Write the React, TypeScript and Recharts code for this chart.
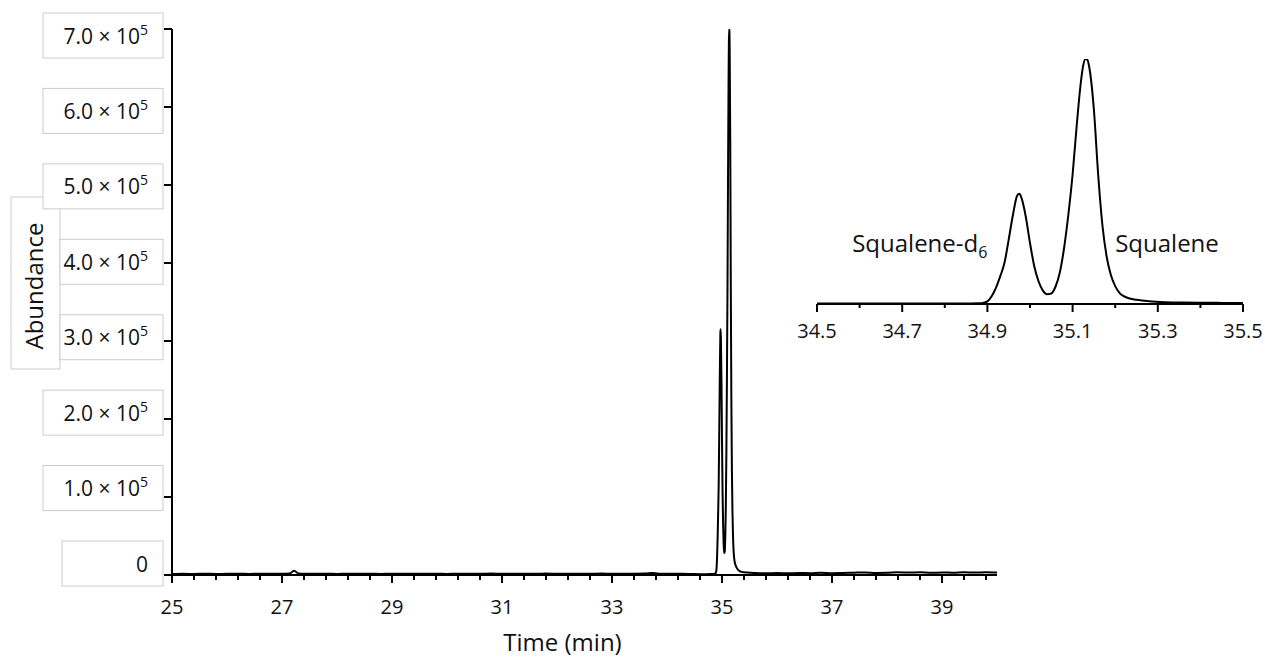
import React from 'react';
import { LineChart, Line, XAxis, YAxis, ReferenceDot } from 'recharts';

// ---- Data ----
const earlyTime = [25.0, 25.2, 25.4, 25.6, 25.8, 26.0, 26.2, 26.4, 26.6, 26.8, 27.0, 27.14, 27.22, 27.3, 27.4, 27.6, 27.8, 28.0, 28.2, 28.4, 28.6, 28.8, 29.0, 29.2, 29.4, 29.6, 29.8, 30.0, 30.2, 30.4, 30.6, 30.8, 31.0, 31.2, 31.4, 31.6, 31.8, 32.0, 32.2, 32.4, 32.6, 32.8, 33.0, 33.2, 33.4, 33.6, 33.73, 33.85, 34.0, 34.2, 34.4, 34.5, 34.6, 34.7, 34.8];
const earlyAbundance = [1200, 1500, 1300, 1600, 1400, 1500, 1700, 1400, 1600, 1500, 1700, 1900, 5500, 1900, 1600, 1500, 1700, 1400, 1600, 1500, 1700, 1400, 1600, 1500, 1700, 1500, 1600, 1400, 1700, 1500, 1600, 1800, 1500, 1700, 1600, 1500, 1800, 1600, 1500, 1700, 1600, 1800, 1500, 1700, 1600, 1800, 2600, 1700, 1600, 1500, 1400, 1200, 1100, 1100, 1200];

const peakTime = [34.86, 34.88, 34.89, 34.9, 34.91, 34.92, 34.93, 34.94, 34.95, 34.96, 34.97, 34.975, 34.98, 34.99, 35.0, 35.01, 35.02, 35.03, 35.04, 35.05, 35.06, 35.07, 35.08, 35.09, 35.1, 35.11, 35.12, 35.125, 35.13, 35.135, 35.14, 35.15, 35.16, 35.17, 35.18, 35.19, 35.2, 35.21, 35.22, 35.23, 35.25, 35.28, 35.32, 35.36, 35.4, 35.45, 35.5];
const peakAbundance = [1500, 2000, 3200, 7600, 22000, 46000, 79000, 117000, 184000, 255000, 310000, 315000, 303000, 250000, 174000, 108000, 65000, 39000, 28000, 30000, 50000, 90000, 160000, 255000, 370000, 515000, 640000, 682000, 700000, 697000, 670000, 555000, 370000, 225000, 135000, 82000, 51000, 32000, 22500, 17000, 12000, 7600, 5000, 4000, 3500, 3200, 3000];

const lateTime = [35.6, 35.8, 36.0, 36.2, 36.4, 36.6, 36.8, 37.0, 37.2, 37.4, 37.6, 37.8, 38.0, 38.2, 38.4, 38.6, 38.8, 39.0, 39.2, 39.4, 39.6, 39.8, 40.0];
const lateAbundance = [2600, 2300, 2500, 2100, 2700, 2400, 2900, 2300, 2600, 3000, 3300, 2700, 2900, 3500, 3100, 3400, 2800, 3200, 3000, 3600, 3100, 3400, 3100];

const mainXLabels = [25, 27, 29, 31, 33, 35, 37, 39];
const mainYTicks = [0, 100000, 200000, 300000, 400000, 500000, 600000, 700000];
const insetXLabels = [34.5, 34.7, 34.9, 35.1, 35.3, 35.5];

const annotations = [
  { name: 'Squalene-d', sub: '6', t: 34.9, a: 148000, anchor: 'end' },
  { name: 'Squalene', sub: '', t: 35.2, a: 148000, anchor: 'start' },
];

const allTime = [...earlyTime, ...peakTime, ...lateTime];
const allAbundance = [...earlyAbundance, ...peakAbundance, ...lateAbundance];
const mainData = allTime.map((t, i) => ({ t, a: allAbundance[i] }));
const insetData = mainData.filter((d) => d.t >= 34.5 && d.t <= 35.5);

const mainXTicks = Array.from({ length: 38 }, (_, i) => Math.round((25 + 0.4 * i) * 10) / 10);
const insetXTicks = Array.from({ length: 11 }, (_, i) => Math.round((34.5 + 0.1 * i) * 10) / 10);

const FONT = '"Open Sans", "Noto Sans", sans-serif';
const TXT = '#111';
const BOX = '#cccccc';

const MainXTick = (props: any) => {
  const { x, y, payload } = props;
  const v = Math.round(payload.value * 10) / 10;
  const major = mainXLabels.includes(v);
  return (
    <g>
      <line x1={x} x2={x} y1={y} y2={y + (major ? 8 : 5)} stroke="#000" strokeWidth={2} />
      {major && (
        <text x={x} y={y + 39} textAnchor="middle" fontSize={20} fontFamily={FONT} fill={TXT}>
          {v}
        </text>
      )}
    </g>
  );
};

const InsetXTick = (props: any) => {
  const { x, y, payload } = props;
  const v = Math.round(payload.value * 10) / 10;
  const major = insetXLabels.includes(v);
  return (
    <g>
      <line x1={x} x2={x} y1={y} y2={y + (major ? 8 : 4)} stroke="#000" strokeWidth={2} />
      {major && (
        <text x={x} y={y + 34} textAnchor="middle" fontSize={20} fontFamily={FONT} fill={TXT}>
          {v.toFixed(1)}
        </text>
      )}
    </g>
  );
};

const YTick = (props: any) => {
  const { x, y, payload } = props;
  const v = payload.value as number;
  const b = y - 11.5 + (18 * v) / 700000; // box centre
  const left = v === 0 ? x - 110 : v === 300000 || v === 400000 ? x - 112 : x - 129;
  const right = x - 9;
  return (
    <g>
      <rect x={left} y={b - 22.5} width={right - left} height={45} fill="#fff" stroke={BOX} strokeWidth={1} />
      <line x1={x - 8} x2={x} y1={y} y2={y} stroke="#000" strokeWidth={2} />
      <text x={x - 24} y={b + 8} textAnchor="end" fontSize={21} fontFamily={FONT} fill={TXT}>
        {v === 0 ? (
          '0'
        ) : (
          <>
            <tspan>{`${(v / 100000).toFixed(1)} \u00d7 10`}</tspan>
            <tspan dy={-9} fontSize={14}>5</tspan>
          </>
        )}
      </text>
    </g>
  );
};

const YTitle = (props: any) => {
  const vb = props.viewBox || {};
  const axisX = vb.x + vb.width;
  const top = vb.y;
  const cx = axisX - 129;
  const cy = top + 257;
  const bx0 = axisX - 161;
  const bxTop = top + 168;
  const bxBot = top + 340;
  return (
    <g>
      <path
        d={`M${axisX - 129},${bxTop} H${bx0} V${bxBot} H${axisX - 112} V${top + 179}`}
        fill="none"
        stroke={BOX}
        strokeWidth={1}
      />
      <text
        x={cx}
        y={cy}
        transform={`rotate(-90, ${cx}, ${cy})`}
        textAnchor="middle"
        fontSize={24}
        fontFamily={FONT}
        fill={TXT}
      >
        Abundance
      </text>
    </g>
  );
};

const XTitle = (props: any) => {
  const vb = props.viewBox || {};
  return (
    <text x={vb.x + vb.width / 2 - 22} y={vb.y + 76} textAnchor="middle" fontSize={24} fontFamily={FONT} fill={TXT}>
      Time (min)
    </text>
  );
};

const makeAnnotation = (ann: any) => (props: any) => {
  const vb = props.viewBox || {};
  const x = vb.x + (vb.width || 0) / 2;
  const y = vb.y + (vb.height || 0) / 2;
  return (
    <text x={x} y={y} textAnchor={ann.anchor} fontSize={24} fontFamily={FONT} fill={TXT}>
      <tspan>{ann.name}</tspan>
      {ann.sub && (
        <tspan dy={6} fontSize={16}>
          {ann.sub}
        </tspan>
      )}
    </text>
  );
};

export default function App() {
  return (
    <div style={{ position: 'absolute', left: 0, top: 0, width: 1265, height: 659, background: '#fff' }}>
      <div style={{ position: 'absolute', left: 0, top: 0 }}>
        <LineChart width={1265} height={659} data={mainData} margin={{ top: 29, right: 268, bottom: 14, left: 12 }}>
          <XAxis
            dataKey="t"
            type="number"
            domain={[25, 40]}
            ticks={mainXTicks}
            interval={0}
            tickSize={0}
            tickMargin={0}
            tickLine={false}
            tick={<MainXTick />}
            height={70}
            axisLine={{ stroke: '#000', strokeWidth: 2 }}
            label={{ content: <XTitle /> } as any}
          />
          <YAxis
            dataKey="a"
            type="number"
            domain={[0, 700000]}
            allowDataOverflow
            ticks={mainYTicks}
            interval={0}
            tickSize={0}
            tickMargin={0}
            tickLine={false}
            tick={<YTick />}
            width={160}
            axisLine={{ stroke: '#000', strokeWidth: 2 }}
            label={{ content: <YTitle /> } as any}
          />
          <Line
            type="monotone"
            dataKey="a"
            stroke="#000"
            strokeWidth={2}
            dot={false}
            activeDot={false}
            isAnimationActive={false}
          />
        </LineChart>
      </div>
      <div style={{ position: 'absolute', left: 797, top: 40 }}>
        <LineChart width={466} height={320} data={insetData} margin={{ top: 19, right: 20, bottom: 16, left: 20 }}>
          <XAxis
            dataKey="t"
            type="number"
            domain={[34.5, 35.5]}
            ticks={insetXTicks}
            interval={0}
            tickSize={0}
            tickMargin={0}
            tickLine={false}
            tick={<InsetXTick />}
            height={40}
            axisLine={{ stroke: '#000', strokeWidth: 2 }}
          />
          <YAxis type="number" domain={[0, 700000]} allowDataOverflow hide width={0} />
          <Line
            type="monotone"
            dataKey="a"
            stroke="#000"
            strokeWidth={2}
            dot={false}
            activeDot={false}
            isAnimationActive={false}
          />
          {annotations.map((ann) => (
            <ReferenceDot
              key={ann.name}
              x={ann.t}
              y={ann.a}
              r={0}
              fill="none"
              stroke="none"
              label={makeAnnotation(ann) as any}
            />
          ))}
        </LineChart>
      </div>
    </div>
  );
}
